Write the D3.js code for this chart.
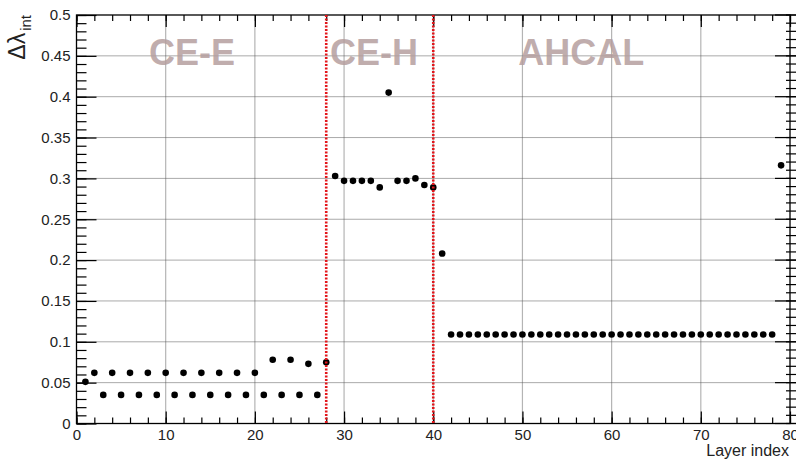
<!DOCTYPE html>
<html>
<head>
<meta charset="utf-8">
<script src="https://cdn.jsdelivr.net/npm/d3@7"></script>
<style>
  body { margin: 0; background: #fff; }
  svg { display: block; }
</style>
</head>
<body>
<div class="chart"></div>
<script>
// layer index and interaction-length thickness per layer
var ceeLayers = [1, 2, 3, 4, 5, 6, 7, 8, 9, 10, 11, 12, 13, 14, 15, 16, 17, 18, 19, 20, 21, 22, 23, 24, 25, 26, 27, 28];
var ceeValues = [0.051, 0.062, 0.035, 0.062, 0.035, 0.062, 0.035, 0.062, 0.035, 0.062,
                 0.035, 0.062, 0.035, 0.062, 0.035, 0.062, 0.035, 0.062, 0.035, 0.062,
                 0.035, 0.078, 0.035, 0.078, 0.035, 0.073, 0.035, 0.075];

var cehLayers = [29, 30, 31, 32, 33, 34, 35, 36, 37, 38, 39, 40];
var cehValues = [0.303, 0.297, 0.297, 0.297, 0.297, 0.289, 0.405, 0.297, 0.297, 0.300, 0.292, 0.289];

var ahcalLayers = [41, 42, 43, 44, 45, 46, 47, 48, 49, 50, 51, 52, 53, 54, 55, 56, 57, 58, 59, 60,
                   61, 62, 63, 64, 65, 66, 67, 68, 69, 70, 71, 72, 73, 74, 75, 76, 77, 78, 79];
var ahcalValues = [0.208, 0.109, 0.109, 0.109, 0.109, 0.109, 0.109, 0.109, 0.109, 0.109,
                   0.109, 0.109, 0.109, 0.109, 0.109, 0.109, 0.109, 0.109, 0.109, 0.109,
                   0.109, 0.109, 0.109, 0.109, 0.109, 0.109, 0.109, 0.109, 0.109, 0.109,
                   0.109, 0.109, 0.109, 0.109, 0.109, 0.109, 0.109, 0.109, 0.316];

var boundaries = [28, 40];
var regionNames = ["CE-E", "CE-H", "AHCAL"];

var xTicks = [0, 10, 20, 30, 40, 50, 60, 70, 80];
var yTicks = [0, 0.05, 0.1, 0.15, 0.2, 0.25, 0.3, 0.35, 0.4, 0.45, 0.5];

var svgWidth = 796;
var svgHeight = 463;
var margin = { top: 15, right: 6, bottom: 39.5, left: 76.5 };
var width = svgWidth - margin.left - margin.right;
var height = svgHeight - margin.top - margin.bottom;

var font = "'Liberation Sans', Arial, Helvetica, sans-serif";

var svg = d3.select(".chart")
  .append("svg")
  .attr("width", svgWidth)
  .attr("height", svgHeight);

var chartGroup = svg.append("g")
  .attr("transform", `translate(${margin.left}, ${margin.top})`);

var x = d3.scaleLinear().domain([0, 80]).range([0, width]);
var y = d3.scaleLinear().domain([0, 0.5]).range([height, 0]);

var points = [];
ceeLayers.forEach((l, i) => points.push({ layer: l, value: ceeValues[i] }));
cehLayers.forEach((l, i) => points.push({ layer: l, value: cehValues[i] }));
ahcalLayers.forEach((l, i) => points.push({ layer: l, value: ahcalValues[i] }));

// grid: solid vertical, dotted horizontal
chartGroup.append("g")
  .selectAll("line")
  .data(xTicks.slice(1, -1))
  .enter()
  .append("line")
  .attr("x1", d => x(d)).attr("x2", d => x(d))
  .attr("y1", 0).attr("y2", height)
  .attr("stroke", "#b4b4b4")
  .attr("stroke-width", 1.2);

chartGroup.append("g")
  .selectAll("line")
  .data(yTicks.slice(1, -1))
  .enter()
  .append("line")
  .attr("x1", 0).attr("x2", width)
  .attr("y1", d => y(d)).attr("y2", d => y(d))
  .attr("stroke", "#555")
  .attr("stroke-width", 1)
  .attr("stroke-dasharray", "1,1");

// region names
var regionX = [12.95, 33.36, 56.6];
chartGroup.append("g")
  .selectAll("text")
  .data(regionNames)
  .enter()
  .append("text")
  .attr("x", (d, i) => x(regionX[i]))
  .attr("y", y(0.439))
  .attr("text-anchor", "middle")
  .attr("font-family", font)
  .attr("font-weight", "bold")
  .attr("font-size", 36)
  .attr("fill", "#b59e9e")
  .attr("fill-opacity", 0.85)
  .text(d => d);

// axes: major ticks with labels, minor ticks without
function styleAxis(g) {
  g.selectAll("path").remove();
  g.selectAll("line").attr("stroke", "#000").attr("stroke-width", 1.2);
  g.selectAll("text").attr("font-family", font).attr("font-size", 15).attr("fill", "#222");
  return g;
}

var xMinor = d3.range(0, 81, 2);
var yMinor = d3.range(0, 0.5001, 0.01);

chartGroup.append("g")
  .attr("transform", `translate(0, ${height})`)
  .call(d3.axisBottom(x).tickValues(xMinor).tickSizeInner(-6).tickSizeOuter(0).tickFormat(""))
  .call(styleAxis);
chartGroup.append("g")
  .attr("transform", `translate(0, ${height})`)
  .call(d3.axisBottom(x).tickValues(xTicks).tickSizeInner(-12).tickSizeOuter(0).tickPadding(6).tickFormat(d => d))
  .call(styleAxis);

chartGroup.append("g")
  .call(d3.axisTop(x).tickValues(xMinor).tickSizeInner(-6).tickSizeOuter(0).tickFormat(""))
  .call(styleAxis);
chartGroup.append("g")
  .call(d3.axisTop(x).tickValues(xTicks).tickSizeInner(-12).tickSizeOuter(0).tickFormat(""))
  .call(styleAxis);

chartGroup.append("g")
  .call(d3.axisLeft(y).tickValues(yMinor).tickSizeInner(-10).tickSizeOuter(0).tickFormat(""))
  .call(styleAxis);
chartGroup.append("g")
  .call(d3.axisLeft(y).tickValues(yTicks).tickSizeInner(-20).tickSizeOuter(0).tickPadding(6).tickFormat(d => String(d)))
  .call(styleAxis);

// right axis ticks cross the frame line
var rightTicks = chartGroup.append("g").attr("transform", `translate(${width}, 0)`);
rightTicks.selectAll("line.minor")
  .data(yMinor)
  .enter()
  .append("line")
  .attr("x1", -4).attr("x2", 6)
  .attr("y1", d => y(d)).attr("y2", d => y(d))
  .attr("stroke", "#000").attr("stroke-width", 1.2);
rightTicks.selectAll("line.major")
  .data(yTicks)
  .enter()
  .append("line")
  .attr("x1", -15).attr("x2", 6)
  .attr("y1", d => y(d)).attr("y2", d => y(d))
  .attr("stroke", "#000").attr("stroke-width", 1.2);

// frame
chartGroup.append("rect")
  .attr("width", width)
  .attr("height", height)
  .attr("fill", "none")
  .attr("stroke", "#000")
  .attr("stroke-width", 1.3);

// points
chartGroup.append("g")
  .selectAll("circle")
  .data(points)
  .enter()
  .append("circle")
  .attr("cx", d => x(d.layer))
  .attr("cy", d => y(d.value))
  .attr("r", 3.3)
  .attr("fill", "#000");

// detector boundaries, drawn over the points
chartGroup.append("g")
  .selectAll("line")
  .data(boundaries)
  .enter()
  .append("line")
  .attr("x1", d => x(d)).attr("x2", d => x(d))
  .attr("y1", 0).attr("y2", height)
  .attr("stroke", "#e3161b")
  .attr("stroke-width", 2.6)
  .attr("stroke-dasharray", "2,1.5");

// axis titles
svg.append("text")
  .attr("x", margin.left + width - 1)
  .attr("y", 456)
  .attr("text-anchor", "end")
  .attr("font-family", font)
  .attr("font-size", 16)
  .attr("fill", "#222")
  .text("Layer index");

var yTitle = svg.append("text")
  .attr("transform", "translate(25, 15) rotate(-90)")
  .attr("text-anchor", "end")
  .attr("font-family", font)
  .attr("font-size", 23)
  .attr("fill", "#222");
yTitle.append("tspan").text("\u0394\u03bb");
yTitle.append("tspan")
  .attr("dx", 2)
  .attr("dy", 6)
  .attr("font-size", 15)
  .text("int");
</script>
</body>
</html>
